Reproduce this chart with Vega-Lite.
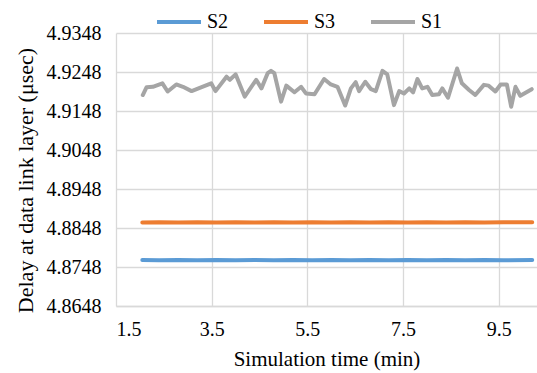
{
  "$schema": "https://vega.github.io/schema/vega-lite/v6.json",
  "width": 421,
  "height": 273,
  "autosize": {"type": "none"},
  "padding": {"left": 116, "top": 33, "right": 0, "bottom": 67},
  "background": "white",
  "config": {"font": "Liberation Serif", "view": {"stroke": null}},
  "data": {
    "values": [
      {"series": "S1", "t": 2.06, "v": 4.9189},
      {"series": "S1", "t": 2.14, "v": 4.9209},
      {"series": "S1", "t": 2.27, "v": 4.921},
      {"series": "S1", "t": 2.47, "v": 4.9219},
      {"series": "S1", "t": 2.58, "v": 4.9198},
      {"series": "S1", "t": 2.76, "v": 4.9216},
      {"series": "S1", "t": 2.9, "v": 4.921},
      {"series": "S1", "t": 3.08, "v": 4.9199},
      {"series": "S1", "t": 3.29, "v": 4.9209},
      {"series": "S1", "t": 3.49, "v": 4.9219},
      {"series": "S1", "t": 3.58, "v": 4.9199},
      {"series": "S1", "t": 3.81, "v": 4.9236},
      {"series": "S1", "t": 3.88, "v": 4.9228},
      {"series": "S1", "t": 4.0, "v": 4.9242},
      {"series": "S1", "t": 4.19, "v": 4.9185},
      {"series": "S1", "t": 4.43, "v": 4.9228},
      {"series": "S1", "t": 4.54, "v": 4.9206},
      {"series": "S1", "t": 4.67, "v": 4.9245},
      {"series": "S1", "t": 4.74, "v": 4.9251},
      {"series": "S1", "t": 4.81, "v": 4.9245},
      {"series": "S1", "t": 4.95, "v": 4.9172},
      {"series": "S1", "t": 5.06, "v": 4.9213},
      {"series": "S1", "t": 5.23, "v": 4.9196},
      {"series": "S1", "t": 5.37, "v": 4.921},
      {"series": "S1", "t": 5.47, "v": 4.9193},
      {"series": "S1", "t": 5.65, "v": 4.9191},
      {"series": "S1", "t": 5.85, "v": 4.923},
      {"series": "S1", "t": 5.99, "v": 4.9216},
      {"series": "S1", "t": 6.13, "v": 4.921},
      {"series": "S1", "t": 6.29, "v": 4.9162},
      {"series": "S1", "t": 6.41, "v": 4.9206},
      {"series": "S1", "t": 6.51, "v": 4.9222},
      {"series": "S1", "t": 6.58, "v": 4.9199},
      {"series": "S1", "t": 6.71, "v": 4.9223},
      {"series": "S1", "t": 6.83, "v": 4.9204},
      {"series": "S1", "t": 6.93, "v": 4.9199},
      {"series": "S1", "t": 7.07, "v": 4.9251},
      {"series": "S1", "t": 7.17, "v": 4.9242},
      {"series": "S1", "t": 7.31, "v": 4.9163},
      {"series": "S1", "t": 7.42, "v": 4.9199},
      {"series": "S1", "t": 7.52, "v": 4.9193},
      {"series": "S1", "t": 7.63, "v": 4.9206},
      {"series": "S1", "t": 7.71, "v": 4.9196},
      {"series": "S1", "t": 7.8, "v": 4.923},
      {"series": "S1", "t": 7.9, "v": 4.9206},
      {"series": "S1", "t": 8.01, "v": 4.921},
      {"series": "S1", "t": 8.11, "v": 4.9189},
      {"series": "S1", "t": 8.25, "v": 4.9191},
      {"series": "S1", "t": 8.32, "v": 4.9206},
      {"series": "S1", "t": 8.44, "v": 4.9182},
      {"series": "S1", "t": 8.63, "v": 4.9257},
      {"series": "S1", "t": 8.73, "v": 4.9219},
      {"series": "S1", "t": 8.88, "v": 4.9202},
      {"series": "S1", "t": 9.01, "v": 4.9189},
      {"series": "S1", "t": 9.19, "v": 4.9215},
      {"series": "S1", "t": 9.29, "v": 4.9213},
      {"series": "S1", "t": 9.43, "v": 4.9198},
      {"series": "S1", "t": 9.54, "v": 4.9216},
      {"series": "S1", "t": 9.67, "v": 4.9216},
      {"series": "S1", "t": 9.76, "v": 4.9159},
      {"series": "S1", "t": 9.85, "v": 4.921},
      {"series": "S1", "t": 9.95, "v": 4.9187},
      {"series": "S1", "t": 10.19, "v": 4.9204},
      {"series": "S3", "t": 2.05, "v": 4.8862},
      {"series": "S3", "t": 2.4, "v": 4.8863},
      {"series": "S3", "t": 2.8, "v": 4.8862},
      {"series": "S3", "t": 3.2, "v": 4.8863},
      {"series": "S3", "t": 3.6, "v": 4.8862},
      {"series": "S3", "t": 4.0, "v": 4.8863},
      {"series": "S3", "t": 4.4, "v": 4.8862},
      {"series": "S3", "t": 4.8, "v": 4.8863},
      {"series": "S3", "t": 5.2, "v": 4.8862},
      {"series": "S3", "t": 5.6, "v": 4.8863},
      {"series": "S3", "t": 6.0, "v": 4.8862},
      {"series": "S3", "t": 6.4, "v": 4.8863},
      {"series": "S3", "t": 6.8, "v": 4.8862},
      {"series": "S3", "t": 7.2, "v": 4.8863},
      {"series": "S3", "t": 7.6, "v": 4.8862},
      {"series": "S3", "t": 8.0, "v": 4.8863},
      {"series": "S3", "t": 8.4, "v": 4.8862},
      {"series": "S3", "t": 8.8, "v": 4.8863},
      {"series": "S3", "t": 9.2, "v": 4.8862},
      {"series": "S3", "t": 9.6, "v": 4.8863},
      {"series": "S3", "t": 10.2, "v": 4.8863},
      {"series": "S2", "t": 2.05, "v": 4.8766},
      {"series": "S2", "t": 2.4, "v": 4.8765},
      {"series": "S2", "t": 2.8, "v": 4.8766},
      {"series": "S2", "t": 3.2, "v": 4.8765},
      {"series": "S2", "t": 3.6, "v": 4.8766},
      {"series": "S2", "t": 4.0, "v": 4.8765},
      {"series": "S2", "t": 4.4, "v": 4.8766},
      {"series": "S2", "t": 4.8, "v": 4.8765},
      {"series": "S2", "t": 5.2, "v": 4.8766},
      {"series": "S2", "t": 5.6, "v": 4.8765},
      {"series": "S2", "t": 6.0, "v": 4.8766},
      {"series": "S2", "t": 6.4, "v": 4.8765},
      {"series": "S2", "t": 6.8, "v": 4.8766},
      {"series": "S2", "t": 7.2, "v": 4.8765},
      {"series": "S2", "t": 7.6, "v": 4.8766},
      {"series": "S2", "t": 8.0, "v": 4.8765},
      {"series": "S2", "t": 8.4, "v": 4.8766},
      {"series": "S2", "t": 8.8, "v": 4.8765},
      {"series": "S2", "t": 9.2, "v": 4.8766},
      {"series": "S2", "t": 9.6, "v": 4.8765},
      {"series": "S2", "t": 10.2, "v": 4.8766}
    ]
  },
  "mark": {"type": "line", "strokeWidth": 4, "strokeCap": "round", "strokeJoin": "round"},
  "encoding": {
    "x": {
      "field": "t",
      "type": "quantitative",
      "scale": {"domain": [1.5, 10.3], "nice": false, "zero": false},
      "axis": {
        "values": [1.5, 3.5, 5.5, 7.5, 9.5],
        "format": ".1f",
        "title": "Simulation time (min)",
        "titleFont": "Liberation Serif",
        "labelFont": "Liberation Serif",
        "titleFontSize": 21,
        "titleFontWeight": "normal",
        "titleColor": "#000",
        "labelFontSize": 20,
        "labelColor": "#000",
        "grid": true,
        "gridColor": "#d9d9d9",
        "gridWidth": 1.3,
        "domainColor": "#d9d9d9",
        "domainWidth": 1.3,
        "ticks": false,
        "labelPadding": 13,
        "titlePadding": 9
      }
    },
    "y": {
      "field": "v",
      "type": "quantitative",
      "scale": {"domain": [4.8648, 4.9348], "nice": false, "zero": false},
      "axis": {
        "values": [4.8648, 4.8748, 4.8848, 4.8948, 4.9048, 4.9148, 4.9248, 4.9348],
        "format": ".4f",
        "title": "Delay at data link layer (μsec)",
        "titleFont": "Liberation Serif",
        "labelFont": "Liberation Serif",
        "titleFontSize": 22,
        "titleFontWeight": "normal",
        "titleColor": "#000",
        "titleY": 147,
        "labelFontSize": 20,
        "labelColor": "#000",
        "grid": true,
        "gridColor": "#d9d9d9",
        "gridWidth": 1.3,
        "domain": false,
        "ticks": false,
        "labelPadding": 15,
        "titlePadding": 9
      }
    },
    "color": {
      "field": "series",
      "type": "nominal",
      "scale": {"domain": ["S2", "S3", "S1"], "range": ["#5B9BD5", "#ED7D31", "#A5A5A5"]},
      "legend": {
        "title": null,
        "orient": "none",
        "direction": "horizontal",
        "legendX": 39,
        "legendY": -35,
        "symbolType": "stroke",
        "symbolSize": 1936,
        "symbolStrokeWidth": 4,
        "labelFont": "Liberation Serif",
        "labelFontSize": 20,
        "labelColor": "#000",
        "labelOffset": 4,
        "columnPadding": 27
      }
    }
  }
}
